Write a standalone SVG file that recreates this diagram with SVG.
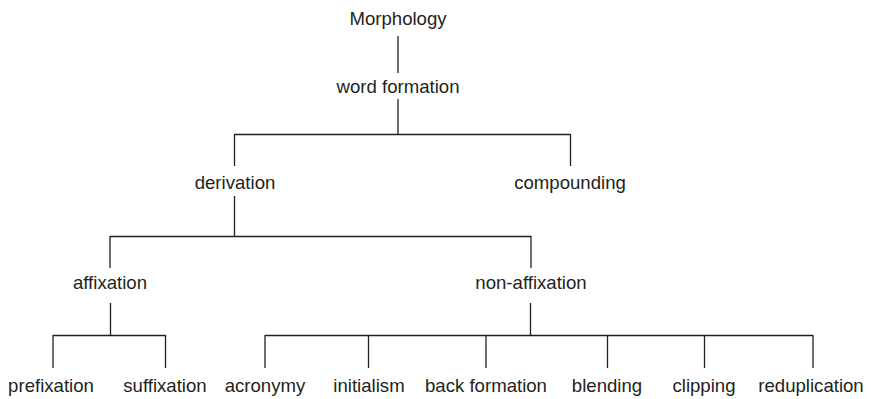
<svg xmlns="http://www.w3.org/2000/svg" width="871" height="399" viewBox="0 0 871 399">
<style>
text{font-family:"Liberation Sans",Arial,sans-serif;font-size:18.6px;fill:#231f20;text-anchor:middle}
.c line{stroke:#231f20;stroke-width:1.3;fill:none}
</style>
<rect width="871" height="399" fill="#fff"/>
<g class="c" id="connectors">
<line x1="398" y1="36" x2="398" y2="73"/>
<line x1="398" y1="99" x2="398" y2="134.5"/>
<line x1="234.5" y1="134.5" x2="570.5" y2="134.5"/>
<line x1="234.5" y1="134" x2="234.5" y2="166"/>
<line x1="570.5" y1="134" x2="570.5" y2="166"/>
<line x1="234.5" y1="196" x2="234.5" y2="236.5"/>
<line x1="110" y1="236.5" x2="531" y2="236.5"/>
<line x1="110" y1="236" x2="110" y2="268"/>
<line x1="531" y1="236" x2="531" y2="268"/>
<line x1="110.5" y1="303" x2="110.5" y2="335.5"/>
<line x1="53" y1="335.5" x2="165.5" y2="335.5"/>
<line x1="53" y1="335" x2="53" y2="368"/>
<line x1="165.5" y1="335" x2="165.5" y2="368"/>
<line x1="530.5" y1="303" x2="530.5" y2="335.5"/>
<line x1="265" y1="335.5" x2="813" y2="335.5"/>
<line x1="265" y1="335" x2="265" y2="368"/>
<line x1="368.5" y1="335" x2="368.5" y2="368"/>
<line x1="486" y1="335" x2="486" y2="368"/>
<line x1="607.5" y1="335" x2="607.5" y2="368"/>
<line x1="704.5" y1="335" x2="704.5" y2="368"/>
<line x1="813" y1="335" x2="813" y2="368"/>
</g>
<g id="morphology"><text x="398" y="25">Morphology</text></g>
<g id="word-formation"><text x="398" y="93">word formation</text></g>
<g id="derivation"><text x="235" y="189">derivation</text></g>
<g id="compounding"><text x="570" y="189">compounding</text></g>
<g id="affixation"><text x="110" y="289">affixation</text></g>
<g id="non-affixation"><text x="531" y="289">non-affixation</text></g>
<g id="prefixation"><text x="51" y="392">prefixation</text></g>
<g id="suffixation"><text x="165" y="392">suffixation</text></g>
<g id="acronymy"><text x="265" y="392">acronymy</text></g>
<g id="initialism"><text x="369" y="392">initialism</text></g>
<g id="back-formation"><text x="486" y="392">back formation</text></g>
<g id="blending"><text x="607" y="392">blending</text></g>
<g id="clipping"><text x="704" y="392">clipping</text></g>
<g id="reduplication"><text x="811" y="392">reduplication</text></g>
</svg>
